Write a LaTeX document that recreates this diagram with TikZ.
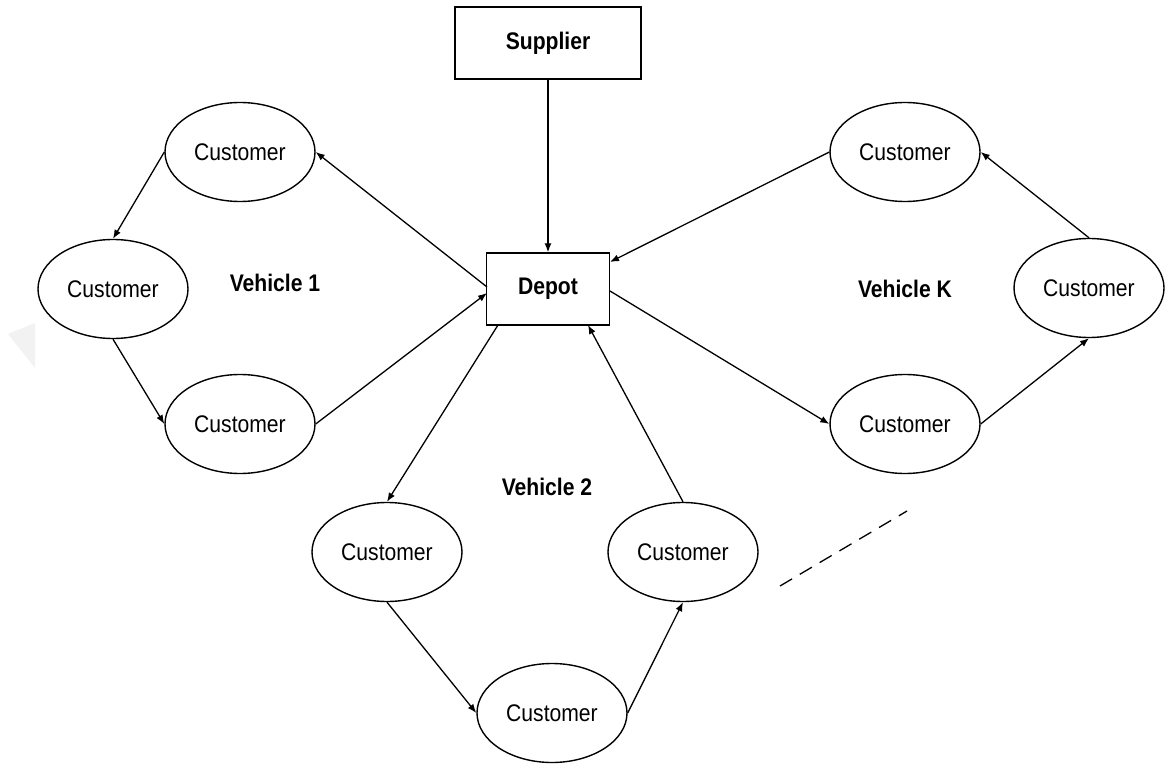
\documentclass[tikz,border=0pt]{standalone}
\usepackage{fontspec}
\setmainfont{Liberation Sans}[FakeStretch=0.88]
\usetikzlibrary{arrows.meta,shapes.geometric}
\tikzset{
  box/.style={draw, line width=1.4pt, rectangle, inner sep=0pt, font=\fontsize{24}{27}\selectfont\bfseries},
  cust/.style={draw, line width=1.4pt, ellipse, minimum width=150pt, minimum height=99pt, inner sep=0pt, font=\fontsize{24}{27}\selectfont},
  vlabel/.style={font=\fontsize{24}{27}\selectfont\bfseries},
  arr/.style={line width=1.3pt, -{Latex[length=9pt,width=7pt]}},
  route/.style={line width=1.3pt}
}
\begin{document}
\begin{tikzpicture}[x=1pt,y=-1pt]
\useasboundingbox (0,0) rectangle (1167,767);
% faint wedge near the left edge
\fill[gray!10] (8,334) -- (35,323) -- (35,368) -- cycle;

% supplier and depot
\node[box, minimum width=186pt, minimum height=72pt] (sup) at (548,43) {Supplier};
\node[box, minimum width=123pt, minimum height=72pt] (dep) at (548,289) {Depot};

% vehicle 1 customers
\node[cust] (a1) at (240,152) {Customer};
\node[cust] (a2) at (113,289) {Customer};
\node[cust] (a3) at (240,424) {Customer};
% vehicle 2 customers
\node[cust] (b1) at (387,552) {Customer};
\node[cust] (b2) at (552,713) {Customer};
\node[cust] (b3) at (683,552) {Customer};
% vehicle K customers
\node[cust] (k1) at (905,424) {Customer};
\node[cust] (k2) at (1089,288) {Customer};
\node[cust] (k3) at (905,152) {Customer};

% route labels
\node[vlabel] (v1) at (275,283) {Vehicle 1};
\node[vlabel] (v2) at (547,487) {Vehicle 2};
\node[vlabel] (vk) at (905,289) {Vehicle K};

% supply
\draw[arr] (sup.south) -- (dep.north);

% vehicle 1 tour
\coordinate (d1) at (487,287);
\coordinate (d2) at (487,293);
\draw[arr] (d1) -- (a1.east);
\draw[arr] (a1.west) -- (a2.north);
\draw[arr] (a2.south) -- (a3.west);
\draw[arr] (a3.east) -- (d2);

% vehicle 2 tour
\coordinate (d3) at (498,325);
\coordinate (d4) at (588,325);
\draw[arr] (d3) -- (b1.north);
\draw[arr] (b1.south) -- (b2.west);
\draw[arr] (b2.east) -- (b3.south);
\draw[arr] (b3.north) -- (d4);

% vehicle K tour
\coordinate (d5) at (610,291);
\coordinate (d6) at (610,262);
\draw[arr] (d5) -- (k1.west);
\draw[arr] (k1.east) -- (k2.south);
\draw[arr] (k2.north) -- (k3.east);
\draw[arr] (k3.west) -- (d6);

% further vehicles
\coordinate (e1) at (780,586);
\coordinate (e2) at (907,511);
\draw[route, dash pattern=on 14pt off 9pt] (e1) -- (e2);
\end{tikzpicture}
\end{document}
